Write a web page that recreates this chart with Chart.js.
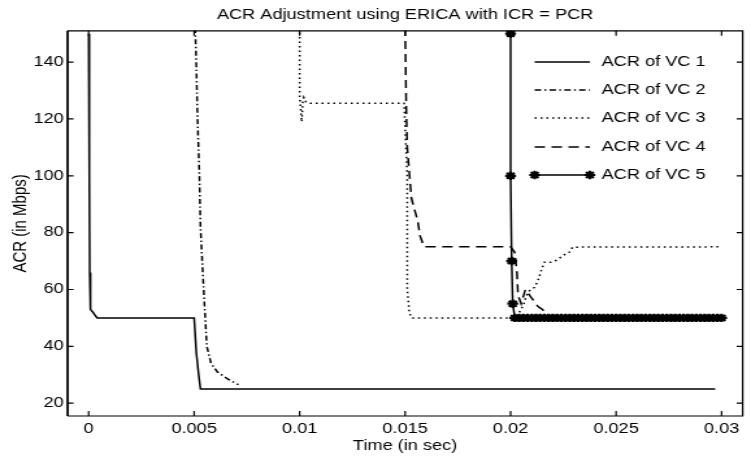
<!DOCTYPE html>
<html>
<head>
<meta charset="utf-8">
<title>ACR Adjustment using ERICA with ICR = PCR</title>
<script src="https://cdn.jsdelivr.net/npm/chart.js@4/dist/chart.umd.min.js"></script>
<style>
    html, body { margin: 0; padding: 0; background: #fff; overflow: hidden; }
    /* the original figure is stretched sideways, so the canvas is too */
    #wrap { width: 578px; height: 456px; transform: scaleX(1.2993); transform-origin: 0 0; }
</style>
</head>
<body>
<div id="wrap"><canvas id="chart"></canvas></div>
<script>
const xTicks      = [0, 0.005, 0.01, 0.015, 0.02, 0.025, 0.03]
const xTickLabels = ['0', '0.005', '0.01', '0.015', '0.02', '0.025', '0.03']
const yTicks      = [20, 40, 60, 80, 100, 120, 140]

const seriesNames = ['ACR of VC 1', 'ACR of VC 2', 'ACR of VC 3', 'ACR of VC 4', 'ACR of VC 5']

const vc1T = [0, 0.00003, 0.00005, 0.00007, 0.0001, 0.0002, 0.0003, 0.0004, 0.005, 0.00505, 0.0051, 0.0052, 0.0053, 0.0297]
const vc1R = [150, 100, 66, 55, 53, 52, 51, 50, 50, 44, 38, 31, 25, 25]

const vc2T = [0.00505, 0.0051, 0.00516, 0.00525, 0.0053, 0.00545, 0.0056, 0.0058, 0.0061, 0.0066, 0.0071]
const vc2R = [152, 140, 120, 100, 82, 60, 40, 34, 31, 28.5, 26.5]

const vc3T = [0.01, 0.01, 0.0101, 0.01015, 0.0102, 0.0103, 0.0105, 0.01495, 0.0151, 0.0151, 0.0152, 0.0153, 0.0200,
              0.02028, 0.0206, 0.02075, 0.0209, 0.02114, 0.0213, 0.02145, 0.0216, 0.02192, 0.02215, 0.02239, 0.02262,
              0.02278, 0.02294, 0.03]
const vc3R = [152, 128, 119, 126, 127.5, 126, 125.5, 125.5, 100, 60, 52, 50, 50,
              50.3, 54.4, 57.9, 59.6, 60.8, 63.2, 66.7, 69.6, 69.6, 70.2, 71.4, 72.6,
              73.1, 74.9, 75]

const vc4T = [0.015, 0.01505, 0.0151, 0.0153, 0.0156, 0.0157, 0.0159, 0.02, 0.0202, 0.0203, 0.02035, 0.0205,
              0.0207, 0.021, 0.0213, 0.0215, 0.0218, 0.0219, 0.03]
const vc4R = [152, 125, 110, 92, 84, 79, 75, 75, 73, 66, 58, 55,
              60, 57, 54, 53, 51, 50, 50]

const vc5T = [0.02, 0.02, 0.02005, 0.0201, 0.0202, 0.0204, 0.0206, 0.0208, 0.021, 0.0212, 0.0214, 0.0216, 0.0218,
              0.022, 0.0222, 0.0224, 0.0226, 0.0228, 0.023, 0.0232, 0.0234, 0.0236, 0.0238, 0.024, 0.0242,
              0.0244, 0.0246, 0.0248, 0.025, 0.0252, 0.0254, 0.0256, 0.0258, 0.026, 0.0262, 0.0264, 0.0266,
              0.0268, 0.027, 0.0272, 0.0274, 0.0276, 0.0278, 0.028, 0.0282, 0.0284, 0.0286, 0.0288, 0.029,
              0.0292, 0.0294, 0.0296, 0.0298, 0.03]
const vc5R = [150, 100, 70, 55, 50, 50, 50, 50, 50, 50, 50, 50, 50,
              50, 50, 50, 50, 50, 50, 50, 50, 50, 50, 50, 50,
              50, 50, 50, 50, 50, 50, 50, 50, 50, 50, 50, 50,
              50, 50, 50, 50, 50, 50, 50, 50, 50, 50, 50, 50,
              50, 50, 50, 50, 50]

const FONT = "'Liberation Sans', Arial, Helvetica, sans-serif"

function pts(t, r) {
    return t.map((x, i) => ({x: x, y: r[i]}))
}

// box, inward ticks on all four sides and the legend inside the axes
const framePlugin = {
    id: 'frame',
    afterDraw(chart) {
        const ctx = chart.ctx
        const {left, right, top, bottom} = chart.chartArea
        const xs = chart.scales.x
        const ys = chart.scales.y

        ctx.save()
        ctx.strokeStyle = '#000'
        ctx.lineWidth   = 1.2
        ctx.beginPath()
        ctx.moveTo(left, top)
        ctx.lineTo(right, top)
        ctx.lineTo(right, bottom)
        ctx.lineTo(left, bottom)
        ctx.stroke()
        ctx.lineWidth = 1.8
        ctx.beginPath()
        ctx.moveTo(left, top)
        ctx.lineTo(left, bottom)
        ctx.stroke()

        ctx.lineWidth = 1.2
        ctx.beginPath()
        xTicks.forEach(v => {
            const px = xs.getPixelForValue(v)
            ctx.moveTo(px, bottom)
            ctx.lineTo(px, bottom - 5)
            ctx.moveTo(px, top)
            ctx.lineTo(px, top + 5)
        })
        yTicks.forEach(v => {
            const py = ys.getPixelForValue(v)
            ctx.moveTo(left, py)
            ctx.lineTo(left + 4.6, py)
            ctx.moveTo(right, py)
            ctx.lineTo(right - 4.6, py)
        })
        ctx.stroke()

        // legend
        const rows = [62, 90, 118, 147, 175]
        const x0 = 411.5, x1 = 454, tx = 463
        ctx.font         = '14px ' + FONT
        ctx.textBaseline = 'middle'
        ctx.textAlign    = 'left'
        chart.data.datasets.forEach((ds, i) => {
            const y = rows[i]
            ctx.strokeStyle = ds.borderColor
            ctx.lineWidth   = ds.borderWidth
            ctx.setLineDash(ds.borderDash || [])
            ctx.beginPath()
            ctx.moveTo(x0, y)
            ctx.lineTo(x1, y)
            ctx.stroke()
            ctx.setLineDash([])
            if (ds.pointRadius > 0) {
                ctx.fillStyle = '#000'
                ctx.lineWidth = ds.pointBorderWidth
                const opts = {pointStyle: ds.pointStyle, radius: ds.pointRadius, rotation: 0, borderWidth: ds.pointBorderWidth}
                Chart.helpers.drawPoint(ctx, opts, x0, y)
                Chart.helpers.drawPoint(ctx, opts, x1, y)
            }
            ctx.fillStyle = '#000'
            ctx.fillText(ds.label, tx, y)
        })
        ctx.restore()
    }
}

window.addEventListener('DOMContentLoaded', function () {
    const chartCanvas = document.getElementById('chart')

    const common = {
        borderColor    : '#000',
        backgroundColor: '#000',
        borderWidth    : 1.5,
        pointRadius    : 0,
        fill           : false,
        tension        : 0,
    }

    new Chart(chartCanvas, {
        type   : 'line',
        data   : {
            datasets: [
                {...common, label: seriesNames[0], data: pts(vc1T, vc1R)},
                {...common, label: seriesNames[1], data: pts(vc2T, vc2R), borderDash: [5, 2.5, 1.4, 2.5]},
                {...common, label: seriesNames[2], data: pts(vc3T, vc3R), borderDash: [1.5, 3]},
                {...common, label: seriesNames[3], data: pts(vc4T, vc4R), borderDash: [8, 5]},
                {
                    ...common,
                    label           : seriesNames[4],
                    data            : pts(vc5T, vc5R),
                    pointRadius     : 4.2,
                    pointStyle      : 'star',
                    pointBorderWidth: 2.2,
                    pointBorderColor: '#000',
                },
            ]
        },
        options: {
            responsive         : true,
            maintainAspectRatio: false,
            animation          : false,
            layout             : {padding: {left: 0, right: 2, top: 0, bottom: 0}},
            plugins            : {
                legend : {display: false},
                tooltip: {enabled: false},
                title  : {
                    display : true,
                    text    : 'ACR Adjustment using ERICA with ICR = PCR',
                    color   : '#000',
                    fullSize: false,
                    font    : {family: FONT, size: 14, weight: 'normal'},
                    padding : {top: 7, bottom: 7},
                },
            },
            scales: {
                x: {
                    type           : 'linear',
                    min            : -0.001,
                    max            : 0.031,
                    afterBuildTicks: scale => { scale.ticks = xTicks.map(v => ({value: v})) },
                    afterFit       : scale => { scale.height = 40 },
                    ticks          : {
                        color      : '#000',
                        font       : {family: FONT, size: 14},
                        padding    : 5,
                        maxRotation: 0,
                        callback   : v => xTickLabels[xTicks.indexOf(v)],
                    },
                    grid           : {display: false, drawTicks: false},
                    border         : {display: false},
                    title          : {
                        display: true,
                        text   : 'Time (in sec)',
                        color  : '#000',
                        font   : {family: FONT, size: 14},
                        padding: {top: 0, bottom: 1},
                    },
                },
                y: {
                    min            : 15.5,
                    max            : 151,
                    afterBuildTicks: scale => { scale.ticks = yTicks.map(v => ({value: v})) },
                    afterFit       : scale => { scale.width = 52 },
                    ticks          : {
                        color  : '#000',
                        font   : {family: FONT, size: 14},
                        padding: 3,
                    },
                    grid           : {display: false, drawTicks: false},
                    border         : {display: false},
                    title          : {
                        display: true,
                        text   : 'ACR (in Mbps)',
                        color  : '#000',
                        font   : {family: FONT, size: 15},
                        padding: {top: 7, bottom: 0},
                    },
                },
            },
        },
        plugins: [framePlugin],
    })
})
</script>
</body>
</html>
